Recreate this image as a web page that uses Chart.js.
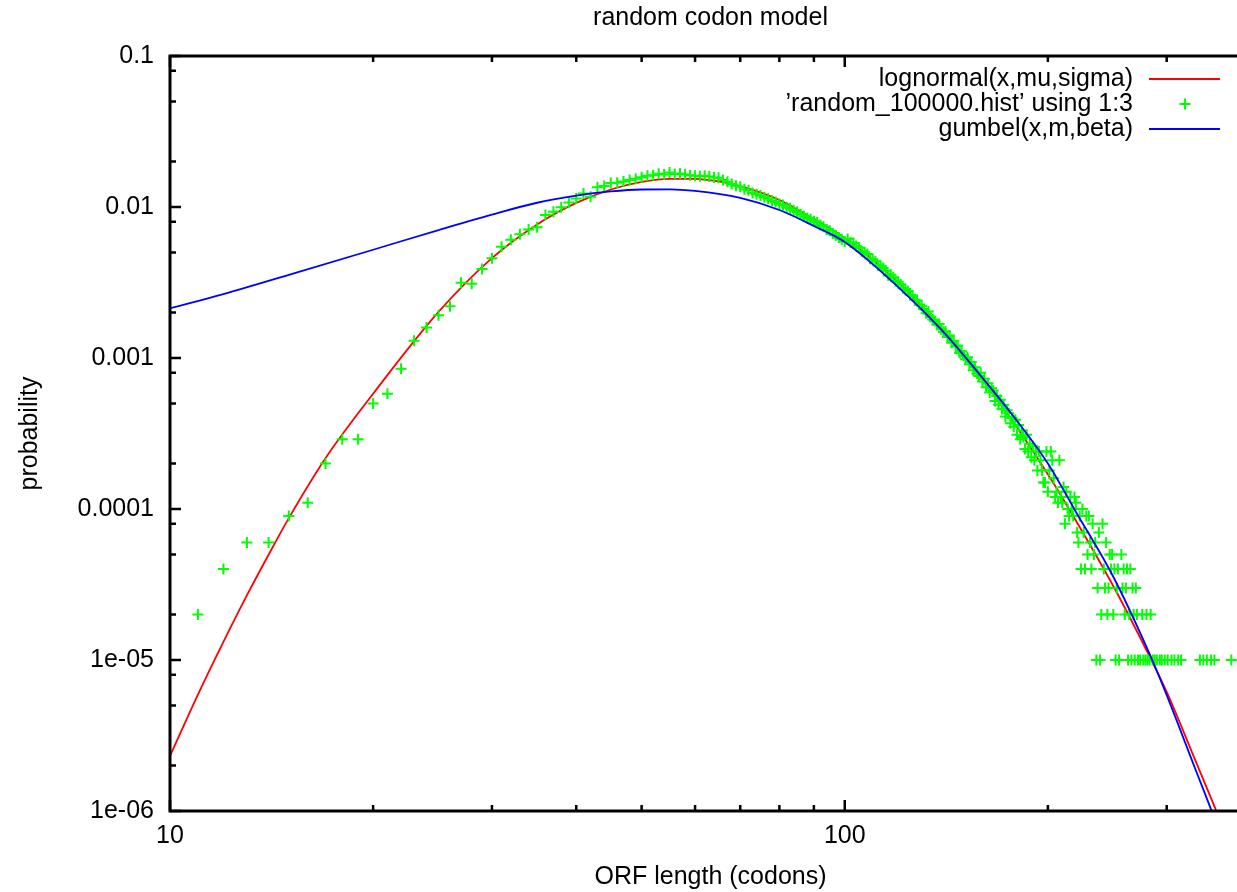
<!DOCTYPE html>
<html>
<head>
<meta charset="utf-8">
<title>random codon model</title>
<script src="https://cdn.jsdelivr.net/npm/chart.js@4.4.1/dist/chart.umd.min.js"></script>
<style>
  html, body { margin: 0; padding: 0; background: #fff; overflow: hidden; }
  #wrap { width: 1280px; height: 892px; }
</style>
</head>
<body>
<div id="wrap"><canvas id="orfChart"></canvas></div>
<script>
// histogram of ORF lengths (codons) -> probability
const histLength = [
  11, 12, 13, 14, 15, 16, 17, 18, 19, 20,
  21, 22, 23, 24, 25, 26, 27, 28, 29, 30,
  31, 32, 33, 34, 35, 36, 37, 38, 39, 40,
  41, 42, 43, 44, 45, 46, 47, 48, 49, 50,
  51, 52, 53, 54, 55, 56, 57, 58, 59, 60,
  61, 62, 63, 64, 65, 66, 67, 68, 69, 70,
  71, 72, 73, 74, 75, 76, 77, 78, 79, 80,
  81, 82, 83, 84, 85, 86, 87, 88, 89, 90,
  91, 92, 93, 94, 95, 96, 97, 98, 99, 100,
  101, 102, 103, 104, 105, 106, 107, 108, 109, 110,
  111, 112, 113, 114, 115, 116, 117, 118, 119, 120,
  121, 122, 123, 124, 125, 126, 127, 128, 129, 130,
  131, 132, 133, 134, 135, 136, 137, 138, 139, 140,
  141, 142, 143, 144, 145, 146, 147, 148, 149, 150,
  151, 152, 153, 154, 155, 156, 157, 158, 159, 160,
  161, 162, 163, 164, 165, 166, 167, 168, 169, 170,
  171, 172, 173, 174, 175, 176, 177, 178, 179, 180,
  181, 182, 183, 184, 185, 186, 187, 188, 189, 190,
  191, 192, 193, 194, 195, 196, 197, 198, 199, 200,
  201, 202, 203, 204, 205, 206, 207, 208, 209, 210,
  211, 212, 213, 214, 215, 216, 217, 218, 219, 220,
  221, 222, 223, 224, 225, 226, 227, 228, 229, 230,
  231, 232, 233, 234, 235, 236, 237, 238, 239, 240,
  241, 242, 243, 244, 245, 246, 247, 248, 249, 250,
  251, 252, 253, 254, 255, 257, 258, 259, 260, 261,
  262, 263, 264, 265, 266, 267, 268, 269, 270, 271,
  272, 274, 276, 277, 279, 280, 281, 283, 284, 286,
  288, 290, 293, 295, 298, 301, 305, 308, 312, 315,
  336, 340, 344, 349, 353, 374
];
const histProbability = [
  0.00002, 0.00004, 0.00006, 0.00006, 0.00009, 0.00011, 0.00020, 0.00029, 0.00029, 0.00050,
  0.00058, 0.00085, 0.00130, 0.00159, 0.00192, 0.00220, 0.00315, 0.00310, 0.00388, 0.00457,
  0.00546, 0.00607, 0.00660, 0.00710, 0.00734, 0.00885, 0.00930, 0.00995, 0.01070, 0.01140,
  0.01230, 0.01170, 0.01350, 0.01380, 0.01440, 0.01445, 0.01475, 0.01512, 0.01540, 0.01575,
  0.01610, 0.01625, 0.01660, 0.01640, 0.01690, 0.01655, 0.01668, 0.01642, 0.01625, 0.01612,
  0.01600, 0.01611, 0.01592, 0.01570, 0.01560, 0.01508, 0.01470, 0.01420, 0.01385, 0.01362,
  0.01310, 0.01290, 0.01240, 0.01215, 0.01190, 0.01160, 0.01135, 0.01100, 0.01080, 0.01045,
  0.01030, 0.00995, 0.00980, 0.00950, 0.00925, 0.00895, 0.00870, 0.00845, 0.00830, 0.00805,
  0.00790, 0.00760, 0.00740, 0.00710, 0.00695, 0.00668, 0.00650, 0.00628, 0.00612, 0.00592,
  0.00615, 0.00583, 0.00578, 0.00552, 0.00538, 0.00509, 0.00502, 0.00488, 0.00455, 0.00451,
  0.00438, 0.00410, 0.00409, 0.00394, 0.00380, 0.00352, 0.00356, 0.00341, 0.00322, 0.00320,
  0.00307, 0.00290, 0.00286, 0.00278, 0.00262, 0.00259, 0.00243, 0.00240, 0.00225, 0.00222,
  0.00211, 0.00198, 0.00203, 0.00187, 0.00180, 0.00176, 0.00166, 0.00168, 0.00155, 0.00149,
  0.00150, 0.00138, 0.00141, 0.00126, 0.00130, 0.00119, 0.00121, 0.00108, 0.00111, 0.00104,
  0.00098, 0.00101, 0.00091, 0.00094, 0.00083, 0.00087, 0.00079, 0.00076, 0.00080, 0.00070,
  0.00073, 0.00064, 0.00068, 0.00059, 0.00063, 0.00061, 0.00052, 0.00056, 0.00049, 0.00053,
  0.00046, 0.00049, 0.00041, 0.00045, 0.00043, 0.00037, 0.00040, 0.00035, 0.00039, 0.00031,
  0.00036, 0.00029, 0.00033, 0.00030, 0.00025, 0.00031, 0.00024, 0.00027, 0.00022, 0.00026,
  0.00021, 0.00024, 0.00018, 0.00024, 0.00021, 0.00018, 0.00015, 0.00015, 0.00024, 0.00013,
  0.00018, 0.00024, 0.00021, 0.00016, 0.00012, 0.00013, 0.00011, 0.00021, 0.00012, 0.00011,
  0.00014, 0.00008, 0.00013, 0.00010, 0.00009, 0.00012, 0.00010, 0.00009, 0.00012, 0.00011,
  0.00007, 0.00006, 0.00009, 0.00004, 0.00010, 0.00007, 0.00004, 0.00009, 0.00005, 0.00009,
  0.00006, 0.00004, 0.00008, 0.00005, 0.00006, 0.00001, 0.00003, 0.00007, 0.00001, 0.00002,
  0.00008, 0.00004, 0.00003, 0.00006, 0.00002, 0.00003, 0.00005, 0.00004, 0.00005, 0.00002,
  0.00004, 0.00001, 0.00003, 0.00004, 0.00001, 0.00005, 0.00003, 0.00004, 0.00002, 0.00003,
  0.00004, 0.00001, 0.00002, 0.00004, 0.00001, 0.00003, 0.00002, 0.00001, 0.00003, 0.00002,
  0.00001, 0.00001, 0.00002, 0.00001, 0.00001, 0.00002, 0.00001, 0.00001, 0.00002, 0.00001,
  0.00001, 0.00001, 0.00001, 0.00001, 0.00001, 0.00001, 0.00001, 0.00001, 0.00001, 0.00001,
  0.00001, 0.00001, 0.00001, 0.00001, 0.00001, 0.00001
];

// fitted curves, sampled along the drawn lines
const lognormalLength = [10, 11, 12, 13, 14, 15, 17, 20, 25, 30, 35, 40, 45, 50, 55, 60, 65, 70, 80, 90,
  100, 120, 140, 160, 180, 200, 220, 250, 280, 300, 330, 350, 360];
const lognormalValue = [2.31e-6, 5.9e-6, 1.32e-5, 2.68e-5, 4.98e-5, 8.7e-5, 2.17e-4, 5.8e-4, 2.02e-3, 4.59e-3,
  7.67e-3, 1.064e-2, 1.306e-2, 1.466e-2, 1.537e-2, 1.535e-2, 1.476e-2, 1.374e-2, 1.112e-2, 8.3e-3,
  6.23e-3, 3.17e-3, 1.53e-3, 7.27e-4, 3.47e-4, 1.70e-4, 8.4e-5, 3.09e-5, 1.16e-5, 6.14e-6, 2.22e-6, 1.18e-6, 8.7e-7];

const gumbelLength = [10, 12, 15, 20, 25, 30, 35, 40, 45, 50, 55, 60, 70, 80, 90, 100, 120, 140, 160, 180,
  200, 220, 250, 280, 300, 330, 350, 360];
const gumbelValue = [2.13e-3, 2.65e-3, 3.55e-3, 5.21e-3, 7.04e-3, 8.91e-3, 1.067e-2, 1.189e-2, 1.268e-2, 1.306e-2,
  1.309e-2, 1.279e-2, 1.148e-2, 9.55e-3, 7.48e-3, 5.86e-3, 2.95e-3, 1.49e-3, 7.38e-4, 3.83e-4,
  2.0e-4, 9.6e-5, 3.56e-5, 1.22e-5, 5.86e-6, 1.95e-6, 9.9e-7, 7e-7];

// axis ticks
const xMajorTicks = [10, 100];
const xTickLabels = ['10', '100'];
const xMinorTicks = [20, 30, 40, 50, 60, 70, 80, 90, 200, 300];
const yMajorTicks = [1e-6, 1e-5, 1e-4, 1e-3, 1e-2, 1e-1];
const yTickLabels = ['1e-06', '1e-05', '0.0001', '0.001', '0.01', '0.1'];
const yMinorTicks = [2e-6, 5e-6, 8e-6, 2e-5, 5e-5, 8e-5, 2e-4, 5e-4, 8e-4, 0.002, 0.005, 0.008, 0.02, 0.05, 0.08];

Chart.defaults.font.family = "'Liberation Sans', Arial, sans-serif";
Chart.defaults.font.size = 25;
Chart.defaults.color = '#000';

const toPoints = (xs, ys) => xs.map((v, i) => ({ x: v, y: ys[i] }));

// border with inward tics, gnuplot style
const gnuplotFrame = {
  id: 'gnuplotFrame',
  afterDatasetsDraw(chart) {
    const { ctx, chartArea: a, scales: { x, y } } = chart;
    ctx.save();
    ctx.strokeStyle = '#000';
    ctx.lineWidth = 2.5;
    ctx.beginPath();
    const xTick = (v, len) => {
      const px = x.getPixelForValue(v);
      ctx.moveTo(px, a.bottom); ctx.lineTo(px, a.bottom - len);
      ctx.moveTo(px, a.top); ctx.lineTo(px, a.top + len);
    };
    const yTick = (v, len) => {
      const py = y.getPixelForValue(v);
      ctx.moveTo(a.left, py); ctx.lineTo(a.left + len, py);
      ctx.moveTo(a.right, py); ctx.lineTo(a.right - len, py);
    };
    xMajorTicks.forEach(v => xTick(v, 11));
    xMinorTicks.forEach(v => xTick(v, 6));
    yMajorTicks.forEach(v => yTick(v, 11));
    yMinorTicks.forEach(v => yTick(v, 6));
    ctx.stroke();
    ctx.lineWidth = 3;
    ctx.strokeRect(a.left, a.top, a.right - a.left, a.bottom - a.top);
    ctx.restore();
  }
};

// key in the top right corner: text right aligned, sample on the right
const gnuplotKey = {
  id: 'gnuplotKey',
  afterDraw(chart) {
    const { ctx, chartArea: a } = chart;
    ctx.save();
    ctx.font = "25px 'Liberation Sans', Arial, sans-serif";
    ctx.textAlign = 'right';
    ctx.textBaseline = 'middle';
    chart.data.datasets.forEach((ds, i) => {
      const rowY = a.top + 23 + i * 25;
      ctx.fillStyle = '#000';
      ctx.fillText(ds.label, a.right - 118, rowY);
      ctx.strokeStyle = ds.borderColor;
      ctx.lineWidth = ds.borderWidth;
      ctx.beginPath();
      if (ds.showLine === false) {
        const cx = a.right - 66;
        ctx.moveTo(cx - 5.5, rowY); ctx.lineTo(cx + 5.5, rowY);
        ctx.moveTo(cx, rowY - 5.5); ctx.lineTo(cx, rowY + 5.5);
      } else {
        ctx.moveTo(a.right - 102, rowY); ctx.lineTo(a.right - 31, rowY);
      }
      ctx.stroke();
    });
    ctx.restore();
  }
};

new Chart(document.getElementById('orfChart'), {
  type: 'scatter',
  data: {
    datasets: [
      {
        label: 'lognormal(x,mu,sigma)',
        type: 'line',
        data: toPoints(lognormalLength, lognormalValue),
        borderColor: '#ff0000',
        borderWidth: 1.8,
        pointRadius: 0,
        fill: false,
        cubicInterpolationMode: 'monotone',
        order: 3
      },
      {
        label: '\u2019random_100000.hist\u2019 using 1:3',
        data: toPoints(histLength, histProbability),
        showLine: false,
        pointStyle: 'cross',
        pointRadius: 5.5,
        borderColor: '#00ff00',
        backgroundColor: '#00ff00',
        borderWidth: 2,
        order: 2
      },
      {
        label: 'gumbel(x,m,beta)',
        type: 'line',
        data: toPoints(gumbelLength, gumbelValue),
        borderColor: '#0000ff',
        borderWidth: 1.8,
        pointRadius: 0,
        fill: false,
        cubicInterpolationMode: 'monotone',
        order: 1
      }
    ]
  },
  options: {
    responsive: true,
    maintainAspectRatio: false,
    animation: false,
    events: [],
    layout: { padding: { left: 0, right: 29, top: 0, bottom: 0 } },
    plugins: {
      legend: { display: false },
      tooltip: { enabled: false },
      title: {
        display: true,
        text: 'random codon model',
        fullSize: false,
        color: '#000',
        font: { size: 25, weight: 'normal' },
        padding: { top: 3, bottom: 23 }
      }
    },
    scales: {
      x: {
        type: 'logarithmic',
        min: 10,
        max: 400,
        afterBuildTicks: s => { s.ticks = xMajorTicks.map(v => ({ value: v })); },
        afterFit: s => { s.height = 81; },
        grid: { display: false, drawTicks: false },
        border: { display: false },
        ticks: {
          autoSkip: false,
          maxRotation: 0,
          padding: 10,
          callback: (v, i) => xTickLabels[i]
        },
        title: {
          display: true,
          text: 'ORF length (codons)',
          padding: { top: 0, bottom: 0 }
        }
      },
      y: {
        type: 'logarithmic',
        min: 1e-6,
        max: 0.1,
        afterBuildTicks: s => { s.ticks = yMajorTicks.map(v => ({ value: v })); },
        afterFit: s => { s.width = 170; },
        grid: { display: false, drawTicks: false },
        border: { display: false },
        ticks: {
          autoSkip: false,
          padding: 16,
          callback: (v, i) => yTickLabels[i]
        },
        title: {
          display: true,
          text: 'probability',
          padding: { top: 15, bottom: 0 }
        }
      }
    }
  },
  plugins: [gnuplotFrame, gnuplotKey]
});
</script>
</body>
</html>
